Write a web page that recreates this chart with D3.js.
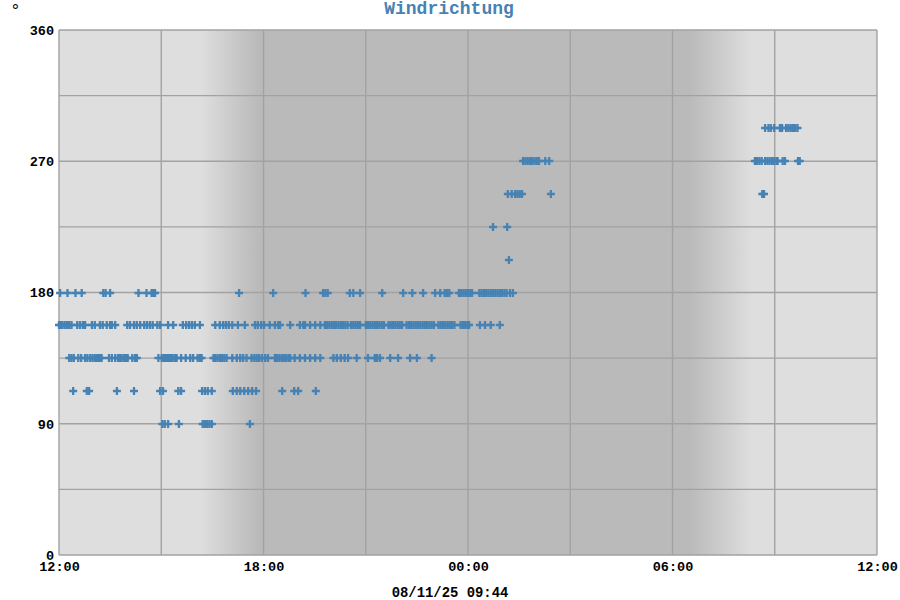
<!DOCTYPE html>
<html>
<head>
<meta charset="utf-8">
<script src="https://cdn.jsdelivr.net/npm/d3@7"></script>
<style>
  body { margin: 0; background: #fff; }
  svg text { font-family: "Liberation Mono", "Courier New", monospace; font-weight: bold; }
</style>
</head>
<body>
<svg width="900" height="600"></svg>
<script>
// wind direction samples (time of day -> compass sector), 10./11.08.2025
var dir090 = ["15:02","15:06","15:12","15:31","16:13","16:17","16:21","16:25","16:29","17:36"];
var dir112 = ["12:25","12:49","12:53","13:42","14:12","14:58","15:03","15:30","15:35","16:12","16:17","16:22","16:29",
  "17:06","17:13","17:19","17:26","17:33","17:40","17:47","18:33","18:54","19:01","19:32"];
var dir135 = ["12:18","12:22","12:26","12:34","12:39","12:46","12:50","12:55","12:59","13:03","13:06","13:09","13:12","13:15",
  "13:28","13:33","13:39","13:44","13:47","13:50","13:54","13:58","14:01","14:09","14:14","14:17",
  "14:55","15:01","15:05","15:08","15:11","15:14","15:17","15:20","15:24","15:27","15:35","15:43","15:51","15:56","16:04","16:08","16:11",
  "16:32","16:35","16:39","16:43","16:47","16:51","16:55","17:05","17:13","17:19","17:24","17:30","17:39","17:44","17:48","17:52","17:57","18:03","18:08",
  "18:20","18:24","18:28","18:32","18:36","18:40","18:44","18:47","18:55","19:04","19:13","19:22","19:31","19:40",
  "20:03","20:09","20:16","20:23","20:29","20:44","21:04","21:16","21:20","21:25","21:43","21:57","22:18","22:30","22:56"];
var dir157 = ["12:00","12:03","12:06","12:10","12:14","12:18","12:22","12:32","12:37","12:42","12:46",
  "12:58","13:03","13:12","13:17","13:24","13:30","13:33","13:39",
  "14:00","14:05","14:12","14:17","14:23","14:30","14:35","14:40","14:45","14:53","14:58","15:12","15:21",
  "15:38","15:44","15:49","15:54","15:59","16:08","16:35","16:43","16:49","16:54","16:59","17:05","17:15","17:27",
  "17:45","17:50","17:56","18:01","18:11","18:20","18:26","18:29","18:47","19:04","19:10","19:13","19:22","19:31","19:40",
  "19:48","19:52","19:56","20:00","20:04","20:08","20:12","20:16","20:20","20:24","20:28",
  "20:34","20:38","20:42","20:46","20:50",
  "21:00","21:04","21:08","21:12","21:16","21:20","21:24","21:28","21:32",
  "21:40","21:44","21:48","21:52","21:56","22:00","22:04",
  "22:12","22:16","22:20","22:24","22:28","22:32","22:36","22:40","22:44","22:48","22:52","22:56","23:00",
  "23:08","23:12","23:16","23:20","23:24","23:28","23:32","23:36",
  "23:47","23:51","23:55","23:59","00:02","00:21","00:30","00:40","00:56"];
var dir180 = ["12:02","12:15","12:29","12:40","13:18","13:22","13:30","14:20","14:34","14:43","14:46","14:49",
  "17:17","18:17","19:14","19:45","19:49","19:53","20:32","20:38","20:50","21:29","22:06","22:22","22:41",
  "23:02","23:11","23:19","23:23","23:27","23:44","23:48","23:52","23:56","00:00","00:04","00:07",
  "00:20","00:24","00:28","00:32","00:36","00:40","00:44","00:48","00:52","00:56","01:00","01:04","01:08","01:14","01:19"];
var dir202 = ["01:12"];
var dir225 = ["00:44","01:09"];
var dir247 = ["01:10","01:17","01:23","01:27","01:31","01:35","02:26","08:38","08:41"];
var dir270 = ["01:37","01:41","01:45","01:49","01:53","01:57","02:01","02:05","02:16","02:23",
  "08:25","08:29","08:33","08:37","08:43","08:47","08:51","08:55","08:59","09:03","09:05","09:14","09:18","09:41","09:44"];
var dir292 = ["08:43","08:49","08:53","08:59","09:09","09:13","09:20","09:24","09:28","09:32","09:36","09:40"];

var sectors = [90, 112.5, 135, 157.5, 180, 202.5, 225, 247.5, 270, 292.5];
var sectorTimes = [dir090, dir112, dir135, dir157, dir180, dir202, dir225, dir247, dir270, dir292];

// twilight: dusk and dawn (start, end)
var dusk = ["16:10", "17:50"];
var dawn = ["06:30", "08:20"];

var yTicks = [0, 90, 180, 270, 360];
var stamp = "08/11/25 09:44";

function parseT(s) {
  var p = s.split(":").map(Number);
  return new Date(2025, 7, p[0] >= 12 ? 10 : 11, p[0], p[1]);
}

var svg = d3.select("svg");
var pLeft = 59, pRight = 877, pTop = 30, pBottom = 555;

var x = d3.scaleTime()
  .domain([new Date(2025, 7, 10, 12, 0), new Date(2025, 7, 11, 12, 0)])
  .range([pLeft, pRight]);
var y = d3.scaleLinear().domain([0, 360]).range([pBottom, pTop]);

// background with night shading
var defs = svg.append("defs");
var grad = defs.append("linearGradient")
  .attr("id", "night")
  .attr("gradientUnits", "userSpaceOnUse")
  .attr("x1", pLeft).attr("x2", pRight).attr("y1", 0).attr("y2", 0);
var dayCol = "#dedede", nightCol = "#bababa";
function off(t) { return (x(parseT(t)) - pLeft) / (pRight - pLeft); }
[[off(dusk[0]), dayCol], [off(dusk[1]), nightCol], [off(dawn[0]), nightCol], [off(dawn[1]), dayCol]]
  .forEach(function(s) {
    grad.append("stop").attr("offset", s[0]).attr("stop-color", s[1]);
  });

svg.append("rect")
  .attr("x", pLeft).attr("y", pTop)
  .attr("width", pRight - pLeft).attr("height", pBottom - pTop)
  .attr("fill", "url(#night)");

// grid
var grid = svg.append("g").attr("stroke", "#a2a2a2").attr("stroke-width", 1.4);
grid.selectAll(".v")
  .data(x.ticks(d3.timeHour.every(3)))
  .enter().append("line")
  .attr("x1", function(d) { return x(d); }).attr("x2", function(d) { return x(d); })
  .attr("y1", pTop).attr("y2", pBottom);
grid.selectAll(".h")
  .data(d3.range(0, 361, 45))
  .enter().append("line")
  .attr("y1", function(d) { return y(d); }).attr("y2", function(d) { return y(d); })
  .attr("x1", pLeft).attr("x2", pRight);

// points
var points = [];
sectors.forEach(function(s, i) {
  sectorTimes[i].forEach(function(t) { points.push({ t: parseT(t), v: s }); });
});

svg.append("g")
  .selectAll("path")
  .data(points)
  .enter().append("path")
  .attr("d", "M-4,0H4M0,-4V4")
  .attr("transform", function(d) { return "translate(" + x(d.t).toFixed(1) + "," + Math.round(y(d.v)) + ")"; })
  .attr("stroke", "#4682b4")
  .attr("stroke-width", 2.3)
  .attr("fill", "none");

// axes
var xAxis = svg.append("g")
  .attr("transform", "translate(0," + pBottom + ")")
  .call(d3.axisBottom(x)
    .ticks(d3.timeHour.every(6))
    .tickFormat(d3.timeFormat("%H:%M"))
    .tickSize(0).tickPadding(6));
xAxis.select(".domain").remove();
xAxis.selectAll("text").attr("font-size", 13.5).attr("fill", "#000")
  .style("font-family", "'Liberation Mono', monospace").style("font-weight", "bold");

var yAxis = svg.append("g")
  .attr("transform", "translate(" + pLeft + ",0)")
  .call(d3.axisLeft(y).tickValues(yTicks).tickSize(0).tickPadding(5));
yAxis.select(".domain").remove();
yAxis.selectAll("text").attr("font-size", 13.5).attr("fill", "#000")
  .style("font-family", "'Liberation Mono', monospace").style("font-weight", "bold");

svg.append("text")
  .attr("x", 449).attr("y", 14)
  .attr("text-anchor", "middle")
  .attr("font-size", 18)
  .attr("fill", "#4682b4")
  .text("Windrichtung");

svg.append("text")
  .attr("x", 10).attr("y", 16)
  .attr("font-size", 18)
  .attr("fill", "#000")
  .style("font-weight", "normal")
  .text("°");

svg.append("text")
  .attr("x", 450).attr("y", 597)
  .attr("text-anchor", "middle")
  .attr("font-size", 13.9)
  .attr("fill", "#000")
  .text(stamp);
</script>
</body>
</html>
